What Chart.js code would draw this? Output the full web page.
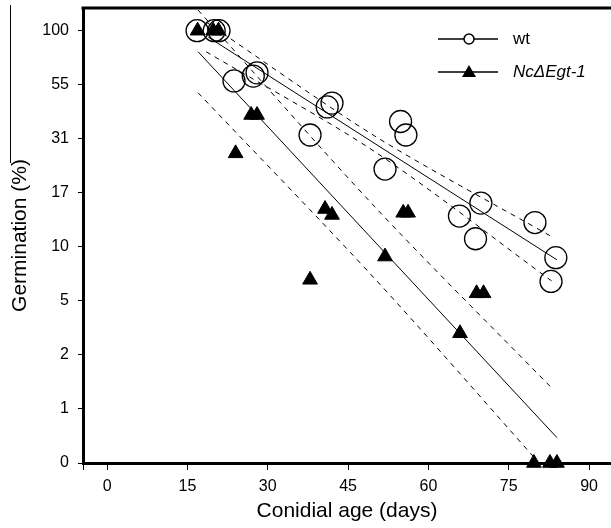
<!DOCTYPE html>
<html>
<head>
<meta charset="utf-8">
<script src="https://cdn.jsdelivr.net/npm/chart.js@4"></script>
<style>
  html, body { margin: 0; padding: 0; background: #fff; overflow: hidden; }
  canvas { display: block; }
</style>
</head>
<body>
<canvas id="myChart" width="611" height="528"></canvas>
<script>
// germination is drawn on a transformed axis: values are in tick steps (0 -> "0", 8 -> "100")
const yTickLabels = ["0", "1", "2", "5", "10", "17", "31", "55", "100"];
const xTicks = [0, 15, 30, 45, 60, 75, 90];

const wtDays = [16.8, 20.0, 20.9, 23.7, 27.3, 28.0, 37.9, 41.1, 42.0, 51.9, 54.8, 55.8, 65.8, 68.8, 69.8, 79.9, 82.9, 83.8];
const wtGerm = [8.0, 8.0, 8.0, 7.07, 7.16, 7.22, 6.07, 6.59, 6.66, 5.44, 6.32, 6.07, 4.57, 4.15, 4.81, 4.45, 3.36, 3.80];

const mutDays = [16.9, 19.8, 20.8, 24.0, 26.9, 28.0, 37.9, 40.7, 42.0, 51.9, 55.3, 56.2, 65.9, 69.0, 70.3, 79.7, 82.7, 84.0];
const mutGerm = [8.0, 8.0, 8.0, 5.73, 6.44, 6.44, 3.39, 4.70, 4.59, 3.82, 4.63, 4.63, 2.40, 3.14, 3.14, 0, 0, 0];

// regression lines and confidence bands (start / middle / end)
const wtFitDays = [18.9, 84.0];
const wtFit = [7.88, 3.76];
const wtBandDays = [18.5, 50, 83.0];
const wtUpper = [8.16, 6.05, 4.19];
const wtLower = [7.61, 5.76, 3.37];

const mutFitDays = [17.0, 84.0];
const mutFit = [7.61, 0.47];
const mutUpperDays = [17.0, 50, 83.3];
const mutUpper = [8.38, 4.74, 1.36];
const mutLowerDays = [17.0, 50, 79.6];
const mutLower = [6.85, 3.41, 0.12];

const pts = (xs, ys) => xs.map((x, i) => ({ x: x, y: ys[i] }));
const FONT = '"Liberation Sans", Arial, sans-serif';

function lineSet(xs, ys, dashed) {
  return {
    type: "line",
    data: pts(xs, ys),
    borderColor: "black",
    borderWidth: 1,
    borderDash: dashed ? [5, 5] : [],
    pointRadius: 0,
    fill: false,
    tension: dashed ? 0.3 : 0,
  };
}

const decor = {
  id: "decor",
  afterDraw(chart) {
    const c = chart.ctx;
    const a = chart.chartArea;
    c.save();
    c.strokeStyle = "black";
    // top frame line
    c.lineWidth = 3;
    c.beginPath();
    c.moveTo(a.left - 1.5, a.top);
    c.lineTo(chart.width, a.top);
    c.stroke();
    // stray line left of the y title
    c.lineWidth = 1;
    c.beginPath();
    c.moveTo(10.5, 5);
    c.lineTo(10.5, 163);
    c.stroke();

    // legend
    const items = [
      { label: "wt", y: 39, italic: false, mark: "circle" },
      { label: "Nc\u0394Egt-1", y: 72, italic: true, mark: "triangle" },
    ];
    items.forEach((it) => {
      c.lineWidth = 1.5;
      c.beginPath();
      c.moveTo(438, it.y);
      c.lineTo(498, it.y);
      c.stroke();
      if (it.mark === "circle") {
        c.fillStyle = "white";
        c.lineWidth = 1.5;
        c.beginPath();
        c.arc(469, it.y, 5, 0, Math.PI * 2);
        c.fill();
        c.stroke();
      } else {
        c.fillStyle = "black";
        c.beginPath();
        c.moveTo(469, it.y - 7);
        c.lineTo(476, it.y + 5);
        c.lineTo(462, it.y + 5);
        c.closePath();
        c.fill();
      }
      c.fillStyle = "black";
      c.font = (it.italic ? "italic " : "") + "17px " + FONT;
      c.textBaseline = "middle";
      c.textAlign = "left";
      c.fillText(it.label, 513, it.y);
    });
    c.restore();
  },
};

new Chart(document.getElementById("myChart"), {
  type: "scatter",
  data: {
    datasets: [
      lineSet(wtFitDays, wtFit, false),
      lineSet(wtBandDays, wtUpper, true),
      lineSet(wtBandDays, wtLower, true),
      lineSet(mutFitDays, mutFit, false),
      lineSet(mutUpperDays, mutUpper, true),
      lineSet(mutLowerDays, mutLower, true),
      {
        label: "wt",
        data: pts(wtDays, wtGerm),
        pointStyle: "circle",
        pointRadius: 11,
        pointHoverRadius: 11,
        borderWidth: 1.3,
        borderColor: "black",
        backgroundColor: "transparent",
        clip: false,
      },
      {
        label: "Nc\u0394Egt-1",
        data: pts(mutDays, mutGerm),
        pointStyle: "triangle",
        pointRadius: 8.5,
        pointHoverRadius: 8.5,
        borderWidth: 1,
        borderColor: "black",
        backgroundColor: "black",
        clip: false,
      },
    ],
  },
  options: {
    responsive: false,
    animation: false,
    layout: { autoPadding: false, padding: { top: 8, right: 0, left: 0, bottom: 0 } },
    plugins: { legend: { display: false }, tooltip: { enabled: false } },
    scales: {
      x: {
        type: "linear",
        min: -4.5,
        max: 94.1,
        afterBuildTicks: (s) => {
          s.ticks = [{ value: -4.5 }].concat(xTicks.map((v) => ({ value: v })));
        },
        afterFit: (s) => {
          s.height = 65;
          s.paddingLeft = 0;
          s.paddingRight = 0;
        },
        ticks: {
          callback: (v) => (xTicks.includes(v) ? String(v) : ""),
          color: "black",
          font: { family: FONT, size: 16 },
          padding: 7,
          maxRotation: 0,
        },
        grid: { drawOnChartArea: false, tickLength: 7, color: "black", lineWidth: 1 },
        border: { color: "black", width: 3 },
        title: {
          display: true,
          text: "Conidial age (days)",
          color: "black",
          font: { family: FONT, size: 21 },
          padding: { top: 0, bottom: 4 },
        },
      },
      y: {
        min: 0,
        max: 8.42,
        afterBuildTicks: (s) => {
          s.ticks = yTickLabels.map((_, i) => ({ value: i }));
        },
        afterFit: (s) => {
          s.width = 83;
          s.paddingTop = 0;
          s.paddingBottom = 0;
        },
        ticks: {
          callback: (v, i) => yTickLabels[i],
          color: "black",
          font: { family: FONT, size: 16 },
          padding: 9,
        },
        grid: { drawOnChartArea: false, tickLength: 5, color: "black", lineWidth: 1 },
        border: { color: "black", width: 3 },
        title: {
          display: true,
          text: "Germination (%)",
          color: "black",
          font: { family: FONT, size: 21 },
          padding: { top: 8, bottom: 0 },
        },
      },
    },
  },
  plugins: [decor],
});
</script>
</body>
</html>
